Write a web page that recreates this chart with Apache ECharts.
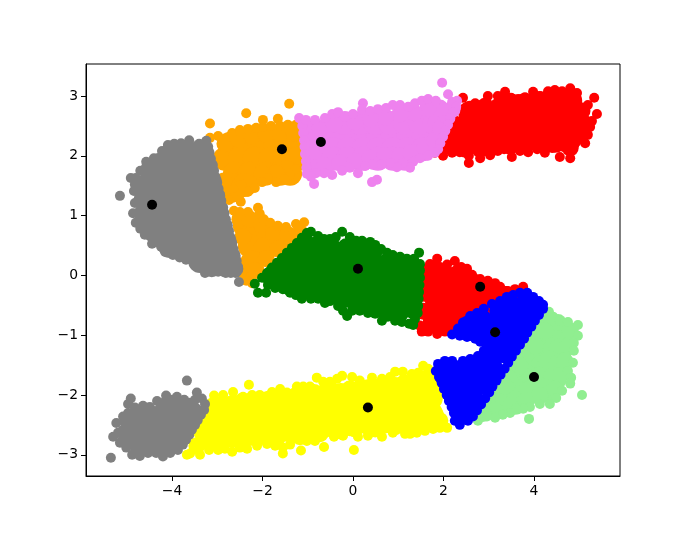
<!DOCTYPE html>
<html><head><meta charset="utf-8">
<script src="https://cdn.jsdelivr.net/npm/echarts@6/dist/echarts.min.js"></script>
<style>html,body{margin:0;padding:0;background:#fff}#c{width:689px;height:535px}</style>
</head><body><div id="c"></div>
<script>
const xTicks=[-4,-2,0,2,4];
const yTicks=[-3,-2,-1,0,1,2,3];
const centers=[[-4.44,1.18],[-1.57,2.11],[-0.71,2.23],[0.11,0.11],[2.81,-0.19],[3.14,-0.95],[4.0,-1.70],[0.33,-2.21]];

const orangeEdge=[[-3.16,2.54],[-2.36,2.71],[-1.41,2.87],[-3.16,2.30],[-2.98,2.33],[-2.67,2.38],[-2.50,2.43],[-2.32,2.45],[-2.14,2.47],[-1.99,2.60],[-1.99,2.48],[-1.81,2.50],[-1.66,2.62],[-1.61,2.50],[-1.44,2.52],[-1.26,2.52],[-1.26,1.78],[-1.39,1.68],[-1.52,1.61],[-1.70,1.56],[-1.88,1.63],[-2.01,1.56],[-2.17,1.46],[-2.32,1.40],[-2.48,1.23],[-2.50,1.35],[-2.65,1.30],[-2.74,1.26],
[-2.63,1.08],[-2.50,1.06],[-2.32,1.06],[-2.10,1.13],[-2.06,1.03],[-1.97,0.94],[-1.83,0.88],[-1.66,0.83],[-1.48,0.81],[-1.26,0.86],[-1.08,0.89],[-1.17,0.78],[-2.36,-0.09],[-2.23,-0.13],[-2.45,0.04]];
const orangeFill=[[-2.83,2.20],[-2.54,2.28],[-2.23,2.33],[-1.92,2.36],[-1.61,2.38],[-1.30,2.38],[-1.44,1.78],[-1.70,1.71],[-2.01,1.70],[-2.28,1.53],[-2.50,1.45],[-2.72,1.41],[-2.85,1.58],
[-2.50,0.94],[-2.28,0.94],[-2.01,0.84],[-1.75,0.71],[-1.44,0.68],[-1.17,0.71],[-2.43,0.64],[-2.32,0.04],[-2.14,0.08],[-1.92,0.28],[-1.66,0.44]];
const orangeCore=[[-2.72,2.20],[-2.39,2.20],[-2.06,2.20],[-1.72,2.20],[-1.39,2.20],[-2.83,1.95],[-2.50,1.95],[-2.17,1.95],[-1.83,1.95],[-1.50,1.95],[-1.22,1.95],[-2.61,1.70],[-2.28,1.70],[-1.94,1.70],[-1.61,1.70],[-1.39,1.70],[-2.67,1.51],[-2.39,1.51],
[-2.39,0.83],[-2.10,0.78],[-1.79,0.64],[-2.28,0.49],[-1.94,0.44],[-2.23,0.21],[-1.50,0.61]];

const yellowEdge=[[-3.07,-2.01],[-2.87,-2.00],[-2.65,-1.95],[-2.30,-1.83],[-2.43,-2.03],[-2.23,-2.00],[-2.06,-2.00],[-1.79,-1.95],[-1.61,-1.90],[-1.46,-1.96],[-1.24,-1.86],[-1.10,-1.86],[-0.95,-1.86],[-0.80,-1.71],[-0.66,-1.78],[-0.51,-1.78],[-0.35,-1.73],[-0.24,-1.68],[-0.02,-1.70],[0.15,-1.76],[0.42,-1.71],[0.64,-1.73],[0.82,-1.70],[0.93,-1.61],[1.10,-1.61],[1.30,-1.65],[1.44,-1.63],[1.55,-1.51],[1.66,-1.56],[1.70,-1.68],
[2.08,-2.55],[1.92,-2.55],[1.77,-2.57],[1.59,-2.60],[1.41,-2.63],[1.26,-2.65],[1.15,-2.65],[0.88,-2.63],[0.64,-2.70],[0.33,-2.68],[0.02,-2.92],[0.11,-2.70],[-0.22,-2.68],[-0.42,-2.70],[-0.64,-2.87],[-0.84,-2.77],[-1.02,-2.77],[-1.15,-2.93],[-1.39,-2.83],[-1.55,-2.98],[-1.55,-2.88],[-1.72,-2.85],[-1.90,-2.82],[-2.12,-2.85],[-2.34,-2.90],[-2.50,-2.88],[-2.67,-2.95],[-2.83,-2.90],[-2.98,-2.92],[-3.18,-2.92],[-3.38,-3.00],[-3.60,-2.98],[-3.67,-3.00],[-3.49,-2.88]];
const yellowFill=[[-2.87,-2.15],[-2.45,-2.11],[-2.06,-2.08],[-1.66,-2.05],[-1.26,-2.01],[-0.86,-1.96],[-0.46,-1.93],[-0.07,-1.90],[0.33,-1.88],[0.73,-1.83],[1.13,-1.80],[1.52,-1.73],
[-2.87,-2.78],[-2.45,-2.77],[-2.06,-2.70],[-1.66,-2.70],[-1.26,-2.65],[-0.86,-2.62],[-0.46,-2.57],[-0.07,-2.55],[0.33,-2.53],[0.73,-2.50],[1.13,-2.47],[1.52,-2.43],[1.84,-2.43],[-3.27,-2.77],
[-3.45,-2.85],[-3.16,-2.80],[1.92,-2.43],[1.59,-2.50],[1.26,-2.53],[0.93,-2.53],[0.49,-2.57],[0.04,-2.57],[-0.29,-2.60],[-0.73,-2.65],[-1.17,-2.70]];
const yellowCore=[[-3.05,-2.23],[-2.65,-2.20],[-2.25,-2.16],[-1.86,-2.13],[-1.46,-2.10],[-1.06,-2.06],[-0.66,-2.03],[-0.27,-2.00],[0.13,-1.96],[0.53,-1.93],[0.93,-1.90],[1.33,-1.86],[1.72,-1.83],
[-3.05,-2.45],[-2.65,-2.42],[-2.25,-2.38],[-1.86,-2.35],[-1.46,-2.31],[-1.06,-2.28],[-0.66,-2.25],[-0.27,-2.21],[0.13,-2.18],[0.53,-2.15],[0.93,-2.11],[1.33,-2.08],[1.72,-2.05],
[-3.05,-2.72],[-2.65,-2.68],[-2.25,-2.65],[-1.86,-2.62],[-1.46,-2.58],[-1.06,-2.55],[-0.66,-2.52],[-0.27,-2.48],[0.13,-2.45],[0.53,-2.42],[0.93,-2.38],[1.33,-2.35],[1.72,-2.31],[-3.27,-2.60],[1.75,-2.36]];

const redTopEdge=[[1.81,2.05],[1.99,2.00],[2.19,2.05],[2.36,2.06],[2.56,1.88],[2.56,2.00],[2.81,1.96],[3.03,2.01],[3.20,2.08],[3.34,2.11],[3.51,1.98],[3.69,2.08],[3.87,2.06],[4.07,2.11],[4.24,2.05],[4.40,2.13],[4.57,1.98],[4.80,1.96],[4.64,2.15],[4.91,2.21],[5.13,2.21],[5.19,2.35],[5.24,2.48],[5.28,2.58],[5.39,2.70],[5.33,2.97],[5.19,2.85],[5.08,2.78],[4.95,3.05],[4.80,3.13],[4.62,3.08],[4.46,3.10],[4.31,3.08],[4.13,3.00],[3.98,3.07],[3.80,2.98],[3.65,2.95],[3.49,2.97],[3.36,3.07],[3.20,3.00],[2.98,3.00],[3.16,2.87],[2.85,2.85],[2.70,2.88],[2.43,2.97],[2.59,2.83]];
const redTopFill=[[2.59,2.72],[2.92,2.83],[3.25,2.83],[3.58,2.82],[3.91,2.88],[4.24,2.92],[4.57,2.97],[4.84,2.95],[5.06,2.75],[5.10,2.55],[5.02,2.33],[4.80,2.13],[4.46,2.20],[4.13,2.20],[3.80,2.20],[3.47,2.16],[3.14,2.15],[2.81,2.11],[2.48,2.11],[2.14,2.16]];
const redTopCore=[[2.59,2.72],[2.92,2.72],[3.25,2.72],[3.58,2.72],[3.91,2.72],[4.24,2.72],[4.57,2.72],[4.91,2.72],
[2.25,2.47],[2.59,2.47],[2.92,2.47],[3.25,2.47],[3.58,2.47],[3.91,2.47],[4.24,2.47],[4.57,2.47],[4.91,2.47],
[2.14,2.25],[2.48,2.25],[2.81,2.25],[3.14,2.25],[3.47,2.25],[3.80,2.25],[4.13,2.25],[4.46,2.25],[4.76,2.25],
[4.13,2.88],[4.46,2.92],[4.80,2.92],[3.80,2.85],[3.47,2.85]];

const redMidEdge=[[1.86,0.28],[2.08,0.18],[2.25,0.24],[2.39,0.14],[2.52,0.11],[2.63,0.01],[2.81,-0.06],[2.98,-0.09],[3.14,-0.13],[3.25,-0.19],[3.40,-0.26],[3.58,-0.23],[3.76,-0.19],[1.70,0.19],[1.92,0.14],[1.52,-0.94],[1.66,-0.94],[1.86,-0.98],[2.03,-0.94],[2.14,-0.93],[1.48,-0.84]];
const redMidFill=[[1.75,0.11],[2.03,0.04],[2.32,0.04],[2.63,-0.09],[2.92,-0.23],[3.25,-0.29],[3.51,-0.36],[1.70,-0.84],[1.97,-0.84],[2.25,-0.79],[1.55,-0.30],[1.55,-0.60],[1.55,0.05]];
const redMidCore=[[1.81,-0.09],[2.14,-0.06],[2.48,-0.14],[2.81,-0.29],[3.09,-0.34],[1.81,-0.34],[2.14,-0.31],[2.48,-0.39],[2.81,-0.51],[1.81,-0.59],[2.14,-0.56],[2.48,-0.64],[1.81,-0.76],[2.14,-0.76],[3.40,-0.38]];

const lightgreenEdge=[[4.33,-0.61],[4.42,-0.69],[4.57,-0.76],[4.75,-0.78],[4.97,-0.83],[4.97,-1.01],[4.88,-1.13],[4.88,-1.26],[4.86,-1.46],[4.75,-1.60],[4.82,-1.71],[4.80,-1.81],[4.62,-1.93],[4.49,-2.05],[4.35,-2.15],[5.06,-2.00],[4.13,-2.15],[3.91,-2.20],[3.76,-2.23],[3.89,-2.40],[3.60,-2.23],[3.47,-2.30],[3.31,-2.33],[3.14,-2.38],[2.96,-2.36],[2.76,-2.43]];
const lightgreenFill=[[4.53,-0.79],[4.80,-0.93],[4.75,-1.18],[4.68,-1.43],[4.57,-1.68],[4.46,-1.90],[4.13,-2.01],[3.80,-2.10],[3.47,-2.18],[3.14,-2.26],[2.87,-2.31],[4.24,-0.93],[4.02,-1.18],[3.69,-1.51],[3.36,-1.85]];
const lightgreenCore=[[4.35,-0.84],[4.53,-1.01],[4.24,-1.18],[4.57,-1.26],[4.02,-1.43],[4.35,-1.46],[4.57,-1.51],[3.80,-1.68],[4.13,-1.73],[4.46,-1.73],[3.58,-1.93],[3.91,-1.96],[4.24,-1.93],[3.25,-2.13],[3.58,-2.13],[3.03,-2.18],
[3.80,-1.26],[4.02,-1.01],[4.24,-0.76],[3.58,-1.51],[3.36,-1.76],[3.14,-2.01],[2.92,-2.23]];

const pinkEdge=[[-1.12,2.50],[-1.10,2.38],[-1.08,2.26],[-1.07,2.15],[-1.06,2.03],[-1.04,1.91],[-1.03,1.80],[-1.02,1.70],[-1.19,2.63],[-1.04,2.60],[-0.84,2.60],[-0.62,2.63],[-0.46,2.70],[-0.33,2.73],[-0.18,2.65],[0,2.70],[0.22,2.88],[0.20,2.77],[0.38,2.75],[0.55,2.78],[0.73,2.80],[0.88,2.85],[1.04,2.85],[1.22,2.82],[1.37,2.88],[1.52,2.92],[1.66,2.95],[1.83,2.92],[1.97,3.22],[2.10,3.03],[2.19,2.90],[2.30,2.92],
[2.28,2.82],[2.21,2.72],[2.15,2.62],[2.10,2.52],[2.04,2.42],[1.99,2.32],[1.93,2.21],[1.88,2.11],[1.81,2.05],
[1.66,2.00],[1.48,1.96],[1.33,1.90],[1.26,1.80],[1.10,1.88],[0.97,1.81],[0.82,1.88],[0.64,1.86],[0.42,1.85],[0.27,1.83],[0.11,1.71],[-0.07,1.80],[-0.24,1.75],[-0.46,1.68],[-0.64,1.71],[-0.82,1.71],[-0.86,1.53],[-0.93,1.65],[0.53,1.60],[0.42,1.56]];
const pinkFill=[[-0.93,2.47],[-0.88,2.25],[-0.88,2.00],[-0.86,1.80],[-0.73,2.47],[-0.42,2.53],[-0.62,1.83],[-0.29,1.88],[0.04,1.91],[0.38,1.96],[0.71,2.00],[1.04,2.00],[1.28,2.05],[1.59,2.13],[1.81,2.25],[1.94,2.47],[2.08,2.67],[2.19,2.78],[1.92,2.80],[1.66,2.80],[1.35,2.72],[1.04,2.70],[0.71,2.65],[0.38,2.62],[0.04,2.57]];
const pinkCore=[[-0.77,2.36],[-0.44,2.36],[-0.11,2.36],[0.22,2.36],[0.55,2.36],[0.88,2.36],[1.22,2.36],[1.55,2.36],[1.79,2.36],
[-0.77,2.11],[-0.44,2.11],[-0.11,2.11],[0.22,2.11],[0.55,2.11],[0.88,2.11],[1.22,2.11],[1.55,2.11],
[-0.18,2.55],[0.15,2.55],[0.49,2.55],[0.82,2.55],[1.15,2.55],[1.48,2.55],[1.81,2.55],[1.92,2.55],
[-0.77,1.95],[-0.44,1.95],[-0.11,1.95],[0.22,1.95],[0.55,1.95],[0.88,1.95],[1.15,1.95]];

const grayTopEdge=[[-3.24,2.25],[-3.20,2.15],[-3.17,2.05],[-3.14,1.95],[-3.10,1.85],[-3.07,1.75],[-3.04,1.65],[-3.00,1.55],[-2.97,1.45],[-2.94,1.35],[-2.91,1.25],[-2.87,1.14],[-2.84,1.04],[-2.81,0.94],[-2.77,0.84],[-2.74,0.74],[-2.71,0.64],[-2.67,0.54],[-2.64,0.44],[-2.61,0.34],[-2.57,0.24],[-2.54,0.14],
[-2.59,0.04],[-2.81,0.04],[-2.98,0.06],[-3.27,0.04],[-3.36,0.18],[-3.69,0.26],[-3.98,0.34],[-4.15,0.39],[-4.24,0.48],[-4.44,0.53],[-4.60,0.68],[-4.80,0.88],[-4.86,1.04],[-4.82,1.21],[-4.84,1.41],[-4.91,1.63],[-4.80,1.63],[-4.57,1.90],[-4.40,1.96],[-4.22,2.08],[-4.09,2.18],[-3.80,2.21],[-3.62,2.26],[-3.40,2.20],[-3.25,2.23],[-5.15,1.33],[-2.52,-0.11],
[-3.15,0.10],[-3.52,0.22],[-3.83,0.30],[-2.70,0.04],[-4.70,0.78],[-4.82,1.52],[-4.70,1.75],[-3.95,2.20]];
const grayTopFill=[[-3.27,2.08],[-3.18,1.83],[-3.09,1.58],[-3.01,1.33],[-2.94,1.08],[-2.85,0.83],[-2.76,0.58],[-2.67,0.33],[-2.61,0.11],[-2.83,0.11],[-3.12,0.11],[-3.38,0.21],[-3.69,0.38],[-4.00,0.46],[-4.31,0.61],[-4.55,0.81],[-4.66,1.04],[-4.66,1.28],[-4.66,1.51],[-4.49,1.75],[-4.27,1.91],[-4.04,2.05],[-3.71,2.11],[-3.43,2.11]];
const grayTopCore=[[-4.04,2.00],[-3.71,2.00],[-3.43,2.00],
[-4.44,1.75],[-4.11,1.75],[-3.78,1.75],[-3.45,1.75],[-3.29,1.75],
[-4.57,1.50],[-4.24,1.50],[-3.91,1.50],[-3.58,1.50],[-3.25,1.50],
[-4.55,1.25],[-4.22,1.25],[-3.89,1.25],[-3.56,1.25],[-3.23,1.25],[-3.09,1.25],
[-4.55,0.99],[-4.22,0.99],[-3.89,0.99],[-3.56,0.99],[-3.23,0.99],[-3.01,0.99],
[-4.38,0.74],[-4.04,0.74],[-3.71,0.74],[-3.38,0.74],[-3.05,0.74],[-2.92,0.74],
[-4.04,0.49],[-3.71,0.49],[-3.38,0.49],[-3.05,0.49],[-2.83,0.49],
[-3.38,0.24],[-3.05,0.24],[-2.74,0.24]];

const grayBottomEdge=[[-3.67,-1.76],[-3.45,-1.96],[-3.49,-2.08],[-3.34,-2.06],[-3.27,-2.15],[-3.29,-2.25],[-3.36,-2.33],[-3.43,-2.42],[-3.49,-2.50],[-3.56,-2.58],[-3.62,-2.67],[-3.69,-2.75],[-3.76,-2.83],[-3.87,-2.92],[-4.04,-2.97],[-4.20,-3.03],[-4.35,-2.97],[-4.53,-2.97],[-4.71,-3.02],[-4.88,-3.00],[-5.35,-3.05],[-5.01,-2.88],[-5.15,-2.80],[-5.30,-2.70],[-5.19,-2.63],[-5.23,-2.47],[-5.08,-2.36],[-4.97,-2.30],[-4.97,-2.15],[-4.91,-2.06],[-4.82,-2.21],[-4.64,-2.18],[-4.49,-2.20],[-4.33,-2.10],[-4.13,-2.01],[-4.00,-2.08],[-3.89,-2.03],[-3.73,-2.08],[-3.60,-2.13]];
const grayBottomFill=[[-3.48,-2.30],[-3.65,-2.51],[-3.80,-2.71],[-4.04,-2.85],[-4.71,-2.85],[-5.04,-2.63],[-4.97,-2.43],[-4.79,-2.33],[-4.49,-2.30],[-4.15,-2.18],[-3.82,-2.18]];
const grayBottomCore=[[-4.82,-2.52],[-4.49,-2.43],[-4.15,-2.30],[-3.82,-2.30],[-3.58,-2.30],[-4.82,-2.73],[-4.49,-2.67],[-4.15,-2.57],[-3.84,-2.53],[-4.49,-2.80],[-4.20,-2.80],[-4.00,-2.73]];

const greenEdge=[[-2.01,-0.04],[-1.90,0.04],[-1.79,0.13],[-1.68,0.21],[-1.57,0.29],[-1.46,0.38],[-1.35,0.46],[-1.24,0.54],[-1.13,0.63],[-1.02,0.71],[-0.93,0.73],[-0.77,0.66],[-0.64,0.61],[-0.51,0.61],[-0.38,0.64],[-0.24,0.73],[-0.07,0.64],[0.07,0.58],[0.20,0.58],[0.38,0.56],[0.49,0.51],[0.62,0.44],[0.75,0.38],[0.88,0.34],[1.04,0.31],[1.19,0.28],[1.35,0.28],[1.46,0.38],
[1.48,0.19],[1.48,0.08],[1.48,-0.04],[1.47,-0.16],[1.46,-0.28],[1.45,-0.39],[1.44,-0.51],[1.43,-0.63],[1.37,-0.73],[1.33,-0.83],[1.24,-0.81],
[1.08,-0.78],[0.93,-0.76],[0.64,-0.76],[0.77,-0.69],[0.49,-0.64],[0.33,-0.63],[0.15,-0.59],[-0.02,-0.59],[-0.13,-0.68],[-0.22,-0.59],[-0.33,-0.51],[-0.51,-0.43],[-0.62,-0.46],[-0.77,-0.39],[-0.93,-0.39],[-1.13,-0.39],[-1.26,-0.33],[-1.39,-0.29],[-1.55,-0.23],[-1.72,-0.21],[-1.88,-0.16],[-1.92,-0.29],[-2.10,-0.29],[-2.17,-0.14]];
const greenFill=[[-1.83,-0.04],[-1.57,0.16],[-1.30,0.36],[-1.04,0.56],[-0.77,0.53],[-0.46,0.48],[-0.15,0.48],[0.15,0.44],[0.46,0.38],[0.77,0.24],[1.08,0.18],[1.37,0.14],[1.35,-0.09],[1.35,-0.34],[1.33,-0.59],[1.04,-0.64],[0.71,-0.59],[0.38,-0.51],[0.04,-0.46],[-0.29,-0.39],[-0.62,-0.31],[-0.95,-0.26],[-1.28,-0.18],[-1.61,-0.09]];
const greenCore=[[-1.06,0.38],[-0.73,0.38],[-0.40,0.38],[-0.07,0.38],[0.27,0.38],
[-1.39,0.13],[-1.06,0.13],[-0.73,0.13],[-0.40,0.13],[-0.07,0.13],[0.27,0.13],[0.60,0.13],[0.93,0.13],[1.19,0.13],
[-1.39,-0.13],[-1.06,-0.13],[-0.73,-0.13],[-0.40,-0.13],[-0.07,-0.13],[0.27,-0.13],[0.60,-0.13],[0.93,-0.13],[1.19,-0.13],
[-0.07,-0.34],[0.27,-0.34],[0.60,-0.34],[0.93,-0.34],[1.19,-0.34],[-0.73,-0.23],[-0.40,-0.23],
[0.49,-0.51],[0.82,-0.51],[1.10,-0.51],[-1.72,0.0]];

const blueEdge=[[4.20,-0.56],[4.11,-0.66],[4.02,-0.76],[3.94,-0.86],[3.85,-0.96],[3.78,-1.06],[3.69,-1.16],[3.60,-1.26],[3.51,-1.36],[3.43,-1.46],[3.35,-1.56],[3.26,-1.66],[3.17,-1.76],[3.08,-1.86],[3.01,-1.96],[2.92,-2.06],[2.83,-2.16],[2.74,-2.26],[2.65,-2.36],[2.54,-2.43],[2.36,-2.50],[2.25,-2.43],
[1.83,-1.60],[1.90,-1.70],[1.96,-1.80],[2.01,-1.90],[2.07,-2.00],[2.12,-2.10],[2.18,-2.20],[2.23,-2.30],[2.28,-2.40],
[1.88,-1.48],[2.03,-1.43],[2.19,-1.43],[2.43,-1.43],[2.59,-1.40],[2.76,-1.35],[2.89,-1.26],[2.98,-1.18],[2.81,-1.11],[2.70,-1.06],[2.52,-1.03],[2.36,-1.01],[2.19,-0.99],[2.32,-0.89],[2.43,-0.79],[2.59,-0.68],[2.74,-0.63],[2.89,-0.56],[3.07,-0.48],[3.25,-0.43],[3.40,-0.36],[3.54,-0.33],[3.69,-0.29],[3.85,-0.29],[3.98,-0.36],[4.11,-0.43],[4.20,-0.49]];
const blueFill=[[4.01,-0.63],[3.82,-0.84],[3.60,-1.09],[3.38,-1.34],[3.17,-1.60],[2.95,-1.85],[2.74,-2.10],[2.56,-2.30],[3.80,-0.43],[3.51,-0.49],[3.20,-0.59],[2.89,-0.73],[2.59,-0.86],[2.04,-1.76],[2.18,-2.01],[2.32,-2.26],[2.03,-1.56],[2.32,-1.56],[2.63,-1.48],[2.92,-1.40],[3.07,-1.23],[2.92,-1.01],[2.63,-0.96],[2.41,-2.36]];
const blueCore=[[3.36,-0.59],[3.69,-0.59],[3.91,-0.59],[2.76,-0.84],[3.09,-0.84],[3.42,-0.84],[3.69,-0.84],[2.59,-0.86],[3.25,-1.06],[3.51,-1.06],[3.29,-1.26],[3.03,-1.51],[2.69,-1.60],[2.36,-1.63],[2.07,-1.68],[2.32,-1.88],[2.65,-1.85],[2.92,-1.80],[2.41,-2.13],[2.63,-2.10],[2.41,-2.26]];

// drawing order: later layers sit on top
const layers=[
 ['orange',orangeCore,orangeFill,orangeEdge],
 ['yellow',yellowCore,yellowFill,yellowEdge],
 ['red',redTopCore,redTopFill,redTopEdge],
 ['red',redMidCore,redMidFill,redMidEdge],
 ['lightgreen',lightgreenCore,lightgreenFill,lightgreenEdge],
 ['violet',pinkCore,pinkFill,pinkEdge],
 ['gray',grayTopCore,grayTopFill,grayTopEdge],
 ['gray',grayBottomCore,grayBottomFill,grayBottomEdge],
 ['green',greenCore,greenFill,greenEdge],
 ['blue',blueCore,blueFill,blueEdge]
];
const colorMap={orange:'#ffa500',yellow:'#ffff00',red:'#ff0000',lightgreen:'#90ee90',violet:'#ee82ee',gray:'#808080',green:'#008000',blue:'#0000ff'};
const series=[];
layers.forEach(([c,core,fill,edge],i)=>{
  const style={color:colorMap[c],opacity:1};
  series.push({type:'scatter',data:core,symbolSize:24,itemStyle:style,z:2+i*3,silent:true,animation:false});
  series.push({type:'scatter',data:fill,symbolSize:17,itemStyle:style,z:3+i*3,silent:true,animation:false});
  series.push({type:'scatter',data:edge,symbolSize:10,itemStyle:style,z:4+i*3,silent:true,animation:false});
});
series.push({type:'scatter',data:centers,symbolSize:10,itemStyle:{color:'#000',opacity:1},z:50,silent:true,animation:false});
const fmt=v=>String(v).replace('-','\u2212');
const label=vals=>({show:true,customValues:vals,formatter:fmt,color:'#000',fontFamily:'DejaVu Sans',fontSize:13.9,margin:8});
const tick=vals=>({show:true,customValues:vals,length:5,inside:false,lineStyle:{color:'#000',width:1}});
const chart=echarts.init(document.getElementById('c'),null,{renderer:'canvas'});
chart.setOption({
 animation:false,backgroundColor:'#fff',
 grid:{left:86,right:69,top:64,bottom:59,show:true,borderColor:'#000',borderWidth:1,backgroundColor:'transparent'},
 xAxis:{type:'value',min:-5.9,max:5.9,splitLine:{show:false},axisLine:{show:true,onZero:false,lineStyle:{color:'#000'}},axisTick:tick(xTicks),axisLabel:label(xTicks)},
 yAxis:{type:'value',min:-3.355,max:3.535,splitLine:{show:false},axisLine:{show:true,onZero:false,lineStyle:{color:'#000'}},axisTick:tick(yTicks),axisLabel:label(yTicks)},
 series
});
</script></body></html>
